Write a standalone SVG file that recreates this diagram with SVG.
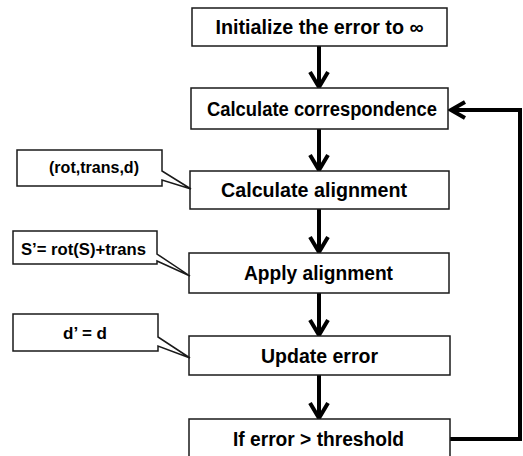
<svg xmlns="http://www.w3.org/2000/svg" width="523" height="456" viewBox="0 0 523 456">
<style>
.box{fill:#fff;stroke:#1a1a1a;stroke-width:1.5}
.t{font-family:"Liberation Sans",Arial,sans-serif;font-weight:bold;font-size:19.5px;fill:#000;text-anchor:middle}
.c{font-family:"Liberation Sans",Arial,sans-serif;font-weight:bold;font-size:16px;fill:#000;text-anchor:middle}
.ln{fill:none;stroke:#000;stroke-width:4}
</style>
<rect width="523" height="456" fill="#fff"/>
<g id="connectors">
<line class="ln" x1="319" y1="46" x2="319" y2="87"/>
<polyline class="ln" points="310,72 319,87 328,72"/>
<line class="ln" x1="319" y1="129" x2="319" y2="170"/>
<polyline class="ln" points="310,155 319,170 328,155"/>
<line class="ln" x1="319" y1="209" x2="319" y2="252"/>
<polyline class="ln" points="310,237 319,252 328,237"/>
<line class="ln" x1="319" y1="293" x2="319" y2="335"/>
<polyline class="ln" points="310,320 319,335 328,320"/>
<line class="ln" x1="319" y1="375" x2="319" y2="418"/>
<polyline class="ln" points="310,403 319,418 328,403"/>
<polyline class="ln" points="450,439 520,439 520,110 451,110"/>
<polyline class="ln" points="465,102 451,110 465,118"/>
</g>
<g id="n1"><rect class="box" x="192" y="8" width="255" height="38"/><text class="t" x="319.5" y="34" textLength="208" lengthAdjust="spacingAndGlyphs">Initialize the error to ∞</text></g>
<g id="n2"><rect class="box" x="191" y="88" width="257" height="41"/><text class="t" x="322" y="116" textLength="230" lengthAdjust="spacingAndGlyphs">Calculate correspondence</text></g>
<g id="n3"><rect class="box" x="190" y="171" width="259" height="38"/><text class="t" x="314" y="197" textLength="186" lengthAdjust="spacingAndGlyphs">Calculate alignment</text></g>
<g id="n4"><rect class="box" x="189" y="253" width="260" height="40"/><text class="t" x="318.5" y="280" textLength="149" lengthAdjust="spacingAndGlyphs">Apply alignment</text></g>
<g id="n5"><rect class="box" x="189" y="336" width="261" height="39"/><text class="t" x="319.5" y="362.5" textLength="117" lengthAdjust="spacingAndGlyphs">Update error</text></g>
<g id="n6"><rect class="box" x="189" y="419" width="261" height="40"/><text class="t" x="318.5" y="446" textLength="171" lengthAdjust="spacingAndGlyphs">If error &gt; threshold</text></g>
<g id="c1"><path class="box" d="M17,150 H162 V171 L191,189 L162,180 V186 H17 Z"/><text class="c" x="94" y="173" textLength="90" lengthAdjust="spacingAndGlyphs">(rot,trans,d)</text></g>
<g id="c2"><path class="box" d="M13,231 H157 V254 L190,276 L157,261 V264 H13 Z"/><text class="c" x="83.5" y="254.5" textLength="125" lengthAdjust="spacingAndGlyphs">S’= rot(S)+trans</text></g>
<g id="c3"><path class="box" d="M13,314 H158 V337 L190,358 L158,346 V351 H13 Z"/><text class="c" x="85" y="338.5" textLength="44" lengthAdjust="spacingAndGlyphs">d’ = d</text></g>
</svg>
